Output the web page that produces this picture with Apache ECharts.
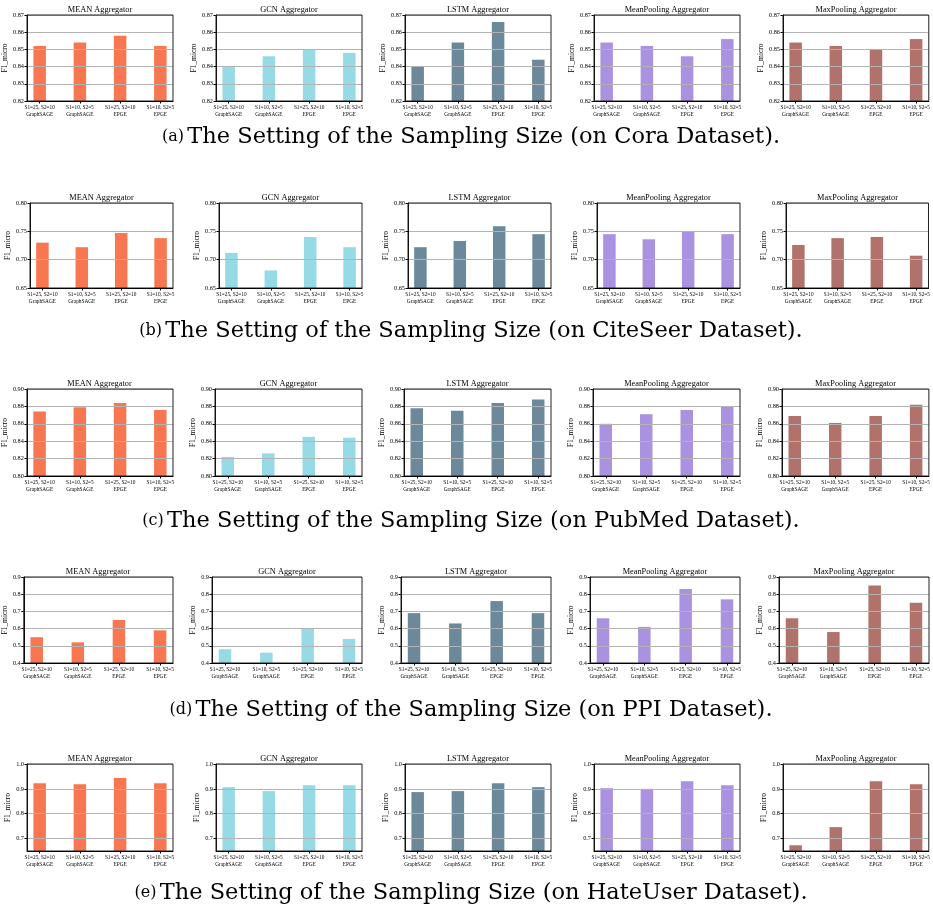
<!DOCTYPE html>
<html><head><meta charset="utf-8">
<script src="https://cdn.jsdelivr.net/npm/echarts@6/dist/echarts.min.js"></script>
<style>html,body{margin:0;padding:0;background:#fff}#c{width:933px;height:909px}</style>
</head><body><div id="c"></div>
<script>
// ---------- data ----------
const categories = ['S1=25, S2=10\nGraphSAGE', 'S1=10, S2=5\nGraphSAGE', 'S1=25, S2=10\nEPGE', 'S1=10, S2=5\nEPGE'];
const aggregatorTitles = ['MEAN Aggregator', 'GCN Aggregator', 'LSTM Aggregator', 'MeanPooling Aggregator', 'MaxPooling Aggregator'];
const captionTags = ['(a)', '(b)', '(c)', '(d)', '(e)'];
const captionTexts = [
  'The Setting of the Sampling Size (on Cora Dataset).',
  'The Setting of the Sampling Size (on CiteSeer Dataset).',
  'The Setting of the Sampling Size (on PubMed Dataset).',
  'The Setting of the Sampling Size (on PPI Dataset).',
  'The Setting of the Sampling Size (on HateUser Dataset).'
];
// values per aggregator: MEAN, GCN, LSTM, MeanPooling, MaxPooling
const coraValues = [
  [0.852, 0.854, 0.858, 0.852],
  [0.840, 0.846, 0.850, 0.848],
  [0.840, 0.854, 0.866, 0.844],
  [0.854, 0.852, 0.846, 0.856],
  [0.854, 0.852, 0.850, 0.856]
];
const citeseerValues = [
  [0.730, 0.722, 0.747, 0.738],
  [0.712, 0.681, 0.740, 0.722],
  [0.722, 0.733, 0.759, 0.745],
  [0.745, 0.736, 0.750, 0.745],
  [0.726, 0.738, 0.740, 0.707]
];
const pubmedValues = [
  [0.874, 0.879, 0.884, 0.876],
  [0.822, 0.826, 0.845, 0.844],
  [0.878, 0.875, 0.884, 0.888],
  [0.860, 0.871, 0.876, 0.880],
  [0.869, 0.861, 0.869, 0.882]
];
const ppiValues = [
  [0.55, 0.52, 0.65, 0.59],
  [0.48, 0.46, 0.60, 0.54],
  [0.69, 0.63, 0.76, 0.69],
  [0.66, 0.61, 0.83, 0.77],
  [0.66, 0.58, 0.85, 0.75]
];
const hateuserValues = [
  [0.923, 0.919, 0.944, 0.923],
  [0.907, 0.891, 0.915, 0.915],
  [0.887, 0.891, 0.923, 0.907],
  [0.903, 0.900, 0.931, 0.915],
  [0.673, 0.746, 0.931, 0.919]
];
// y axis ticks
const coraTicks = [0.82, 0.83, 0.84, 0.85, 0.86, 0.87];
const citeseerTicks = [0.65, 0.70, 0.75, 0.80];
const pubmedTicks = [0.80, 0.82, 0.84, 0.86, 0.88, 0.90];
const ppiTicks = [0.4, 0.5, 0.6, 0.7, 0.8, 0.9];
const hateuserTicks = [0.7, 0.8, 0.9, 1.0];
const yRanges = [[0.82, 0.87], [0.65, 0.80], [0.80, 0.90], [0.4, 0.9], [0.65, 1.0]];
const yDecimals = [2, 2, 2, 1, 1];

// ---------- styling / layout ----------
const barColors = ['#f87650', '#96dae6', '#6b899b', '#aa92e0', '#b0726a'];
const SERIF = '"Liberation Serif", "Times New Roman", serif';
const CAPFONT = '"DejaVu Serif", serif';
const rowsLayout = [
  { top: 15,  bottom: 101, width: 146, capY: 137 },
  { top: 203, bottom: 288, width: 143, capY: 331 },
  { top: 389, bottom: 476, width: 147, capY: 521 },
  { top: 577, bottom: 663, width: 150, capY: 710 },
  { top: 764, bottom: 851, width: 146, capY: 893 }
];
const colRights = [173, 362, 551, 740, 929];
const rowValues = [coraValues, citeseerValues, pubmedValues, ppiValues, hateuserValues];
const rowTicks = [coraTicks, citeseerTicks, pubmedTicks, ppiTicks, hateuserTicks];
const xIdx = categories.map((c, i) => i);

const grid = [], xAxis = [], yAxis = [], series = [], graphic = [];
let k = 0;
rowsLayout.forEach((L, r) => {
  colRights.forEach((right, c) => {
    const left = right - L.width;
    const h = L.bottom - L.top;
    grid.push({ left: left, top: L.top, width: L.width, height: h, show: true, z: 4,
      borderColor: '#222', borderWidth: 1, backgroundColor: 'transparent', containLabel: false });
    xAxis.push({
      type: 'value', gridIndex: k, min: -0.315, max: 3.315, z: 4,
      axisLine: { show: true, onZero: false, lineStyle: { color: '#000', width: 1 } },
      axisTick: { show: true, customValues: xIdx, length: 2.5, lineStyle: { color: '#000', width: 1 } },
      axisLabel: { show: true, customValues: xIdx, formatter: v => categories[Math.round(v)],
        fontSize: 5.3, fontFamily: SERIF, color: '#000', lineHeight: 7, margin: 3 },
      splitLine: { show: false }
    });
    const ticks = rowTicks[r];
    const dec = yDecimals[r];
    yAxis.push({
      type: 'value', gridIndex: k, min: yRanges[r][0], max: yRanges[r][1], z: 3,
      name: 'F1_micro', nameLocation: 'middle', nameRotate: 90, nameGap: 11,
      nameTextStyle: { fontSize: 7.5, fontFamily: SERIF, color: '#000' },
      axisLine: { show: true, onZero: false, lineStyle: { color: '#000', width: 1 } },
      axisTick: { show: true, customValues: ticks, length: 2.5, lineStyle: { color: '#000', width: 1 } },
      axisLabel: { show: true, customValues: ticks, formatter: v => Number(v).toFixed(dec),
        fontSize: 6.3, fontFamily: SERIF, color: '#000', margin: 3 },
      splitLine: { show: true, lineStyle: { color: '#b3b3b3', width: 1 } }
    });
    series.push({
      type: 'bar', xAxisIndex: k, yAxisIndex: k, barWidth: 12.5, z: 2,
      itemStyle: { color: barColors[c] }, silent: true,
      data: rowValues[r][c].map((v, i) => [xIdx[i], v])
    });
    graphic.push({ type: 'text', x: left + L.width / 2, y: L.top - 5,
      style: { text: aggregatorTitles[c], font: '8.3px ' + SERIF, fill: '#000', align: 'center', verticalAlign: 'middle' } });
    k++;
  });
  graphic.push({ type: 'text', x: 471, y: L.capY,
    style: { text: '{t|' + captionTags[r] + '} {m|' + captionTexts[r] + '}', align: 'center', verticalAlign: 'middle',
      rich: { t: { fontSize: 16, fontFamily: CAPFONT, fill: '#000' },
              m: { fontSize: 22.5, fontFamily: CAPFONT, fill: '#000' } } } });
});

const chart = echarts.init(document.getElementById('c'), null, { renderer: 'canvas' });
chart.setOption({ animation: false, backgroundColor: '#fff', grid, xAxis, yAxis, series, graphic });
</script></body></html>
